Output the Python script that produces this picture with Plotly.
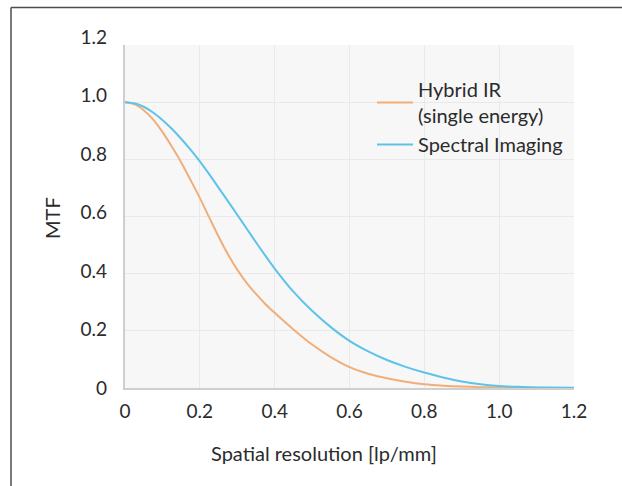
import plotly.graph_objects as go

# ---- data ----
hybrid_x = [0, 0.025, 0.05, 0.075, 0.1, 0.125, 0.15, 0.175, 0.2, 0.225, 0.25, 0.275, 0.3,
            0.325, 0.35, 0.375, 0.4, 0.45, 0.5, 0.55, 0.6, 0.65, 0.7, 0.75, 0.8, 0.85,
            0.9, 0.95, 1.0, 1.1, 1.2]
hybrid_ir = [1.0, 0.993, 0.972, 0.94, 0.896, 0.845, 0.79, 0.728, 0.665, 0.597, 0.53, 0.468, 0.414,
             0.368, 0.329, 0.294, 0.263, 0.205, 0.152, 0.108, 0.073, 0.05, 0.034, 0.022, 0.013, 0.008,
             0.005, 0.003, 0.002, 0.001, 0.0]
spectral_x = [0, 0.025, 0.05, 0.075, 0.1, 0.125, 0.15, 0.175, 0.2, 0.225, 0.25, 0.275, 0.3,
              0.325, 0.35, 0.375, 0.4, 0.45, 0.5, 0.55, 0.6, 0.65, 0.7, 0.75, 0.8, 0.85,
              0.9, 0.95, 1.0, 1.05, 1.1, 1.2]
spectral = [1.0, 0.996, 0.984, 0.964, 0.938, 0.907, 0.872, 0.834, 0.793, 0.748, 0.701, 0.654, 0.606,
            0.558, 0.51, 0.463, 0.418, 0.337, 0.27, 0.213, 0.165, 0.128, 0.098, 0.074, 0.054, 0.037,
            0.023, 0.013, 0.007, 0.004, 0.002, 0.001]
series_names = ["Hybrid IR<br>(single energy)", "Spectral Imaging"]
tick_vals = [0, 0.2, 0.4, 0.6, 0.8, 1.0, 1.2]
tick_text = ["0", "0.2", "0.4", "0.6", "0.8", "1.0", "1.2"]

FONT = "Lato"
TXT = "#2B2B2B"
ORANGE = "#F2AE79"
BLUE = "#5EC3EA"
FS = 20
TFS = 19

W, H = 622, 486
ML, MR, MT, MB = 125, 48, 37, 98
PH = H - MT - MB
PW = W - ML - MR

fig = go.Figure()
fig.add_trace(go.Scatter(x=hybrid_x, y=hybrid_ir, mode="lines", name=series_names[0],
                         line=dict(color=ORANGE, width=2, shape="spline", smoothing=0.6),
                         legendgroup="a"))
fig.add_trace(go.Scatter(x=spectral_x, y=spectral, mode="lines", name=series_names[1],
                         line=dict(color=BLUE, width=2, shape="spline", smoothing=0.6),
                         legendgroup="b"))
# invisible helper trace carrying the tick-label axis
fig.add_trace(go.Scatter(x=spectral_x, y=spectral, xaxis="x2", yaxis="y2", mode="lines",
                         line=dict(width=0), opacity=0, showlegend=False, hoverinfo="skip"))

ydom_top = (388 - 45) / PH

fig.update_layout(
    width=W, height=H,
    margin=dict(l=ML, r=MR, t=MT, b=MB),
    paper_bgcolor="white",
    plot_bgcolor="rgba(0,0,0,0)",
    font=dict(family=FONT, size=FS, color=TXT),
    showlegend=True,
    legend=dict(x=(372 - ML) / PW, xanchor="left",
                y=(388 - 70) / PH, yanchor="top",
                bgcolor="rgba(0,0,0,0)", borderwidth=0,
                font=dict(family=FONT, size=FS, color=TXT),
                itemwidth=36, tracegroupgap=0),
    xaxis=dict(range=[0, 1.2], tickvals=tick_vals, ticktext=tick_text,
               showgrid=True, gridcolor="#E9E9E9", gridwidth=1,
               showline=True, linecolor="#CFCFCF", linewidth=2,
               zeroline=False, ticks="", ticklabelstandoff=5,
               tickfont=dict(family=FONT, size=TFS, color=TXT),
               anchor="y", fixedrange=True),
    yaxis=dict(range=[0, 1.2], domain=[0, ydom_top], tickvals=tick_vals,
               showticklabels=False,
               showgrid=True, gridcolor="#E9E9E9", gridwidth=1,
               showline=True, linecolor="#CFCFCF", linewidth=2,
               zeroline=False, ticks="", anchor="x"),
    xaxis2=dict(range=[0, 1.2], visible=False, showgrid=False, anchor="y2",
                domain=[0, 1]),
    yaxis2=dict(range=[0, 1.2], domain=[0, 1], tickvals=tick_vals, ticktext=tick_text,
                anchor="x2", side="left",
                showgrid=False, showline=False, zeroline=False, ticks="",
                ticklabelstandoff=17,
                tickfont=dict(family=FONT, size=TFS, color=TXT)),
)

# plot background
fig.add_shape(type="rect", xref="x domain", yref="y domain", x0=0, x1=1, y0=0, y1=1,
              fillcolor="#F7F7F7", line=dict(width=0), layer="below")

# axis titles
fig.add_annotation(text="Spatial resolution [lp/mm]", xref="paper", yref="paper",
                   x=(324 - ML) / PW, y=(388 - 453) / PH,
                   xanchor="center", yanchor="middle", showarrow=False,
                   font=dict(family=FONT, size=FS, color=TXT))
fig.add_annotation(text="MTF", xref="paper", yref="paper",
                   x=(52 - ML) / PW, y=(388 - 218) / PH,
                   xanchor="center", yanchor="middle", showarrow=False, textangle=-90,
                   font=dict(family=FONT, size=FS, color=TXT))

# outer frame (top and left edges visible)
fx0 = (11 - ML) / PW
fy0 = (388 - 7.5) / PH
fig.add_shape(type="line", xref="paper", yref="paper", x0=fx0, x1=1.3, y0=fy0, y1=fy0,
              line=dict(color="#4D4D4D", width=1.5), layer="above")
fig.add_shape(type="line", xref="paper", yref="paper", x0=fx0, x1=fx0, y0=fy0, y1=-0.4,
              line=dict(color="#4D4D4D", width=1.5), layer="above")

fig.write_html("out.html", config={"displayModeBar": False},
               post_script="document.body.style.margin='0';document.body.style.overflow='hidden';")
